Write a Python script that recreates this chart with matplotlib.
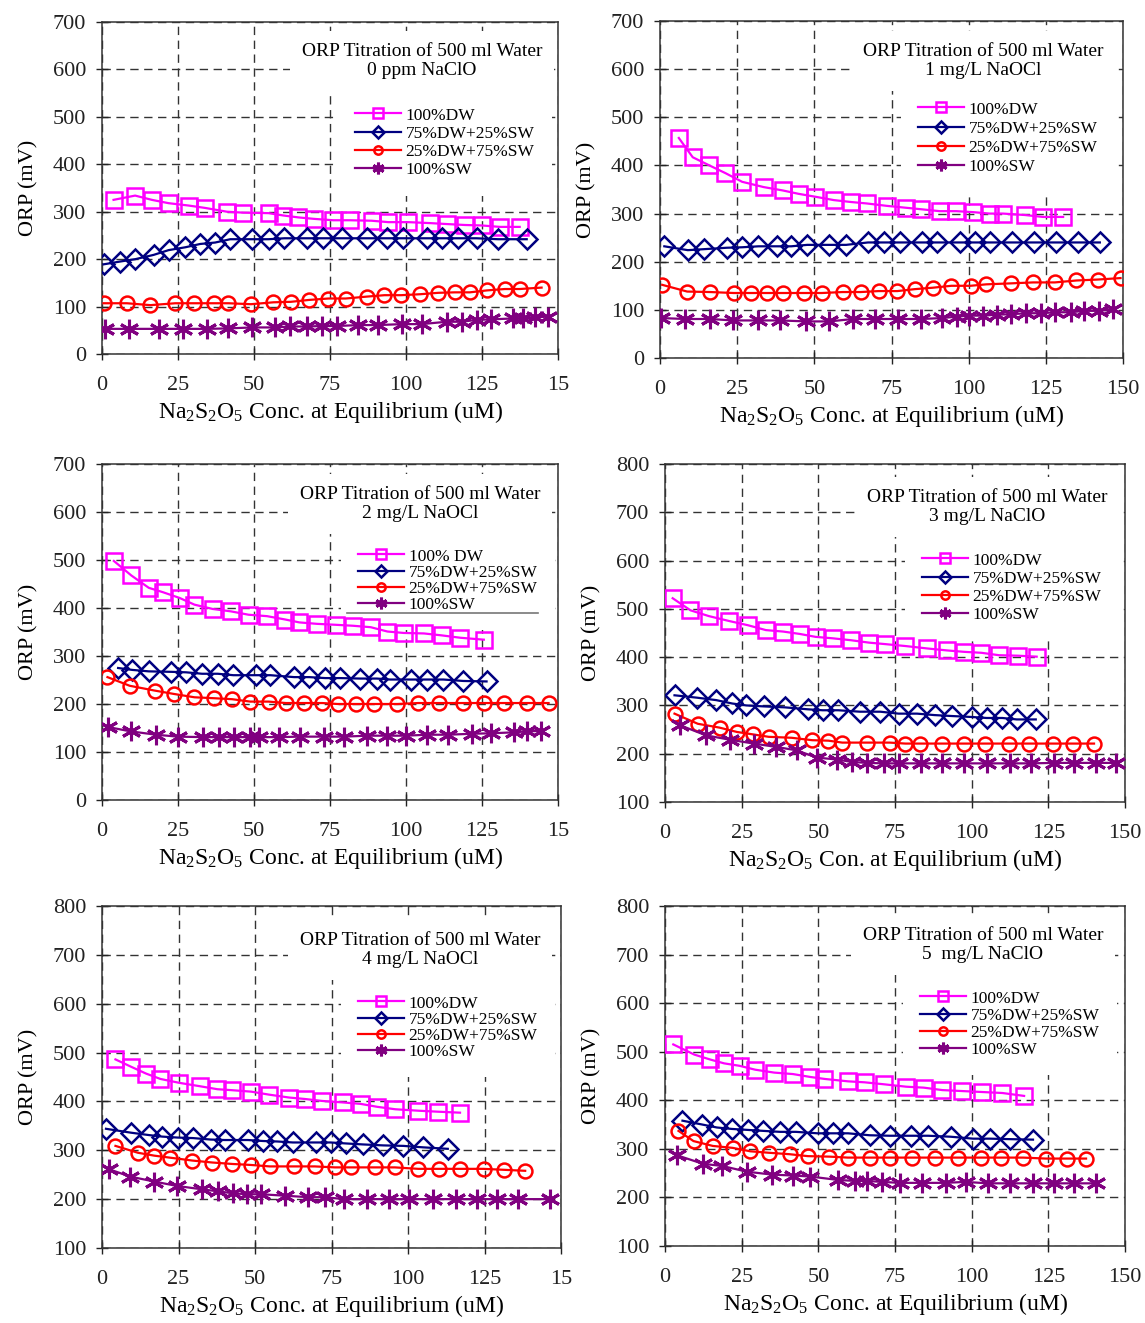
import matplotlib
matplotlib.use("Agg")
import matplotlib.pyplot as plt
from matplotlib.lines import Line2D

plt.rcParams["font.family"] = ["Liberation Serif", "DejaVu Serif"]
plt.rcParams["mathtext.fontset"] = "custom"
plt.rcParams["mathtext.rm"] = "Liberation Serif"
plt.rcParams["mathtext.it"] = "Liberation Serif:italic"

W, H = 1145, 1323

series_labels = ["100%DW", "75%DW+25%SW", "25%DW+75%SW", "100%SW"]
series_labels_p3 = ["100% DW", "75%DW+25%SW", "25%DW+75%SW", "100%SW"]
titles = ["0 ppm NaClO", "1 mg/L NaOCl", "2 mg/L NaOCl",
          "3 mg/L NaClO", "4 mg/L NaOCl", "5  mg/L NaClO"]
x_ticks = [0, 25, 50, 75, 100, 125, 150]
x_labels_left = ["0", "25", "50", "75", "100", "125", "15"]
x_labels_right = ["0", "25", "50", "75", "100", "125", "150"]

# ---- panel 1 : 0 ppm NaClO ----
p1_dw_x = [3.8, 10.9, 16.4, 21.9, 28.5, 33.9, 41.1, 46.5, 54.8, 59.7, 64.6, 69.6, 76.1, 81.6, 88.7, 94.2, 100.8, 107.9, 113.4, 119.4, 124.9, 130.9, 137.4]
p1_dw_y = [325, 334, 325, 318, 313, 308, 300, 298, 297, 292, 288, 285, 282, 282, 281, 278, 278, 276, 274, 272, 271, 268, 268]
p1_75_x = [0.5, 6.0, 11.0, 17.0, 21.9, 27.4, 32.3, 37.2, 42.2, 49.3, 54.8, 60.0, 67.3, 72.8, 78.9, 87.1, 93.6, 99.1, 106.8, 111.7, 117.2, 123.2, 130.3, 139.7]
p1_75_y = [189, 195, 200, 209, 219, 225, 232, 235, 242, 242, 242, 244, 244, 244, 244, 244, 244, 244, 244, 244, 244, 244, 242, 242]
p1_25_x = [0.5, 8.2, 15.9, 24.1, 30.4, 37.0, 41.6, 49.0, 56.4, 62.1, 68.1, 74.5, 80.2, 87.1, 92.9, 98.4, 104.6, 110.6, 116.1, 121.0, 126.5, 132.5, 137.4, 144.6]
p1_25_y = [107, 107, 103, 107, 107, 107, 107, 105, 109, 110, 114, 117, 117, 121, 124, 124, 126, 129, 130, 130, 134, 137, 137, 140]
p1_sw_x = [1.1, 8.8, 18.6, 26.8, 34.5, 41.6, 49.5, 56.9, 61.9, 67.3, 72.3, 77.2, 84.3, 90.9, 98.6, 105.1, 113.4, 118.3, 123.2, 128.1, 135.3, 138.6, 142.4, 146.8]
p1_sw_y = [53, 53, 53, 53, 53, 54, 56, 56, 58, 58, 59, 59, 61, 61, 63, 63, 68, 68, 72, 73, 75, 75, 77, 79]

# ---- panel 2 : 1 mg/L NaOCl ----
p2_dw_x = [6.1, 10.6, 16.0, 21.2, 26.6, 33.6, 39.8, 44.9, 50.3, 56.3, 61.9, 67.0, 73.5, 79.8, 84.6, 90.6, 96.0, 101.4, 106.8, 111.1, 118.2, 124.1, 130.6]
p2_dw_y = [457, 417, 400, 384, 366, 355, 348, 341, 335, 328, 324, 321, 316, 312, 309, 305, 305, 303, 300, 300, 297, 293, 293]
p2_75_x = [1.4, 9.0, 14.1, 21.6, 26.6, 31.9, 37.9, 42.5, 47.7, 54.9, 60.3, 67.4, 72.5, 77.6, 84.9, 89.7, 97.3, 101.9, 106.8, 114.0, 121.2, 128.2, 135.5, 142.5]
p2_75_y = [232, 224, 226, 229, 230, 232, 232, 232, 235, 235, 235, 240, 240, 240, 240, 240, 240, 240, 240, 240, 240, 240, 240, 240]
p2_25_x = [0.7, 8.8, 16.3, 23.9, 29.5, 34.6, 39.8, 46.8, 52.4, 59.2, 65.0, 70.8, 76.9, 82.5, 88.4, 94.4, 100.6, 105.7, 113.6, 120.9, 127.9, 134.9, 141.9, 149.2]
p2_25_y = [152, 138, 137, 135, 135, 135, 135, 135, 135, 137, 137, 139, 139, 143, 146, 150, 150, 153, 155, 157, 157, 161, 163, 166]
p2_sw_x = [0.3, 8.2, 16.3, 23.6, 31.7, 39.0, 47.4, 54.9, 62.5, 69.7, 77.1, 84.6, 91.5, 96.2, 100.0, 104.6, 109.3, 113.8, 118.7, 123.4, 128.1, 133.1, 137.4, 142.2, 146.8]
p2_sw_y = [83, 81, 81, 78, 78, 78, 76, 76, 81, 81, 81, 81, 83, 86, 88, 88, 90, 91, 93, 93, 95, 95, 98, 98, 101]

# ---- panel 3 : 2 mg/L NaOCl ----
p3_dw_x = [3.9, 9.6, 15.4, 20.0, 25.5, 30.4, 36.4, 42.4, 48.2, 54.3, 60.3, 64.9, 70.7, 76.9, 82.6, 88.4, 93.9, 99.3, 105.9, 111.7, 117.9, 125.6]
p3_dw_y = [498, 468, 442, 433, 421, 407, 398, 393, 386, 383, 376, 370, 367, 365, 363, 360, 351, 348, 347, 343, 338, 334]
p3_75_x = [5.3, 10.0, 15.4, 22.8, 27.7, 32.9, 38.1, 43.2, 50.7, 55.4, 63.2, 68.2, 73.4, 78.2, 84.9, 90.4, 94.8, 101.5, 107.0, 112.3, 118.8, 126.5]
p3_75_y = [275, 271, 268, 267, 266, 263, 263, 260, 260, 260, 256, 256, 254, 254, 253, 253, 251, 251, 251, 251, 248, 247]
p3_25_x = [1.8, 9.1, 17.3, 23.6, 30.4, 37.0, 42.8, 48.8, 54.8, 60.5, 66.5, 72.5, 77.5, 83.5, 89.5, 97.2, 104.0, 110.8, 118.8, 125.6, 132.2, 139.8, 146.9]
p3_25_y = [256, 238, 228, 221, 214, 212, 210, 205, 205, 202, 202, 202, 200, 200, 200, 200, 202, 202, 202, 202, 202, 202, 202]
p3_sw_x = [2.0, 9.4, 17.8, 24.9, 33.2, 38.6, 43.5, 48.8, 51.7, 58.3, 65.1, 73.1, 79.6, 87.3, 93.9, 99.9, 107.0, 113.9, 121.6, 128.1, 135.5, 139.8, 144.5]
p3_sw_y = [152, 143, 136, 132, 131, 131, 131, 131, 131, 131, 132, 132, 132, 134, 134, 134, 136, 136, 138, 139, 141, 143, 144]

# ---- panel 4 : 3 mg/L NaClO ----
p4_dw_x = [2.5, 8.3, 14.3, 20.8, 27.1, 32.9, 38.5, 44.0, 49.1, 54.7, 60.7, 66.6, 71.8, 78.4, 85.5, 91.8, 97.5, 103.2, 108.9, 115.0, 121.2]
p4_dw_y = [522, 497, 485, 475, 466, 456, 453, 448, 442, 439, 435, 430, 427, 423, 418, 414, 411, 409, 404, 403, 401]
p4_75_x = [3.1, 10.5, 16.7, 21.9, 26.5, 32.2, 39.1, 46.5, 51.4, 56.5, 63.6, 70.2, 76.2, 82.2, 87.9, 93.7, 100.2, 104.9, 110.0, 114.7, 120.9]
p4_75_y = [321, 316, 311, 304, 300, 298, 296, 292, 290, 290, 287, 287, 283, 283, 280, 278, 276, 274, 274, 271, 271]
p4_25_x = [3.1, 10.7, 17.8, 23.5, 28.7, 33.8, 41.3, 48.0, 53.3, 57.8, 66.0, 73.3, 78.4, 83.1, 90.4, 97.5, 104.4, 112.2, 118.8, 126.4, 133.0, 139.9]
p4_25_y = [283, 262, 254, 245, 240, 235, 233, 228, 227, 223, 223, 223, 221, 221, 221, 221, 221, 221, 221, 221, 221, 221]
p4_sw_x = [4.9, 13.4, 21.1, 29.0, 36.3, 42.9, 49.5, 56.0, 60.9, 65.8, 71.3, 76.2, 83.5, 90.4, 97.5, 104.9, 112.6, 119.3, 126.9, 133.5, 140.4, 147.2]
p4_sw_y = [259, 238, 229, 221, 214, 207, 192, 188, 183, 181, 180, 180, 180, 180, 180, 180, 180, 180, 181, 181, 181, 181]

# ---- panel 5 : 4 mg/L NaOCl ----
p5_dw_x = [4.4, 9.5, 14.4, 19.1, 25.3, 32.1, 37.7, 42.5, 48.8, 54.5, 61.1, 66.3, 71.9, 78.6, 84.5, 89.9, 95.8, 103.4, 109.7, 117.0]
p5_dw_y = [486, 471, 457, 446, 438, 431, 425, 423, 420, 414, 408, 405, 401, 398, 395, 389, 384, 381, 379, 377]
p5_75_x = [1.3, 9.5, 15.5, 19.7, 24.8, 29.7, 35.5, 40.1, 47.7, 52.6, 57.3, 62.4, 69.9, 74.7, 79.7, 85.2, 91.9, 98.5, 105.0, 113.0]
p5_75_y = [344, 336, 331, 328, 326, 325, 322, 321, 321, 319, 318, 316, 316, 316, 314, 312, 310, 309, 306, 303]
p5_25_x = [4.4, 11.7, 17.1, 22.1, 29.5, 36.0, 42.6, 48.6, 54.8, 62.8, 69.5, 76.1, 81.3, 89.2, 95.7, 103.4, 110.2, 117.0, 124.7, 131.5, 138.3]
p5_25_y = [309, 295, 289, 285, 279, 275, 272, 270, 267, 267, 267, 265, 265, 265, 265, 262, 262, 262, 262, 260, 258]
p5_sw_x = [2.4, 9.3, 17.1, 24.5, 32.8, 37.9, 42.8, 47.4, 52.1, 59.9, 67.4, 72.8, 79.1, 86.5, 93.8, 100.4, 108.3, 115.7, 122.5, 129.0, 136.1, 146.3]
p5_sw_y = [261, 246, 236, 227, 220, 216, 212, 210, 210, 207, 204, 204, 200, 200, 200, 200, 200, 200, 200, 200, 200, 200]

# ---- panel 6 : 5 mg/L NaClO ----
p6_dw_x = [2.7, 9.6, 14.7, 19.3, 24.3, 29.4, 35.6, 41.7, 47.4, 52.0, 59.7, 65.1, 71.3, 78.6, 84.4, 90.4, 96.9, 103.5, 110.0, 117.1]
p6_dw_y = [515, 494, 484, 476, 471, 463, 457, 454, 448, 444, 439, 437, 433, 428, 426, 421, 419, 417, 415, 409]
p6_75_x = [5.7, 12.2, 16.9, 21.8, 27.0, 32.1, 37.6, 42.7, 49.8, 54.7, 59.7, 66.7, 73.3, 80.3, 85.8, 93.1, 100.5, 105.9, 112.5, 120.0]
p6_75_y = [358, 350, 344, 341, 339, 337, 335, 335, 332, 332, 332, 328, 327, 327, 327, 325, 321, 321, 320, 319]
p6_25_x = [4.4, 9.3, 15.6, 22.1, 27.8, 33.8, 40.6, 46.6, 53.6, 59.6, 66.7, 73.5, 80.6, 88.2, 95.5, 102.9, 109.7, 116.8, 124.2, 131.0, 137.3]
p6_25_y = [337, 316, 306, 302, 295, 292, 289, 285, 284, 282, 282, 282, 282, 282, 282, 282, 282, 282, 280, 280, 280]
p6_sw_x = [3.8, 12.5, 18.5, 26.7, 34.9, 41.9, 47.4, 56.4, 61.9, 65.9, 70.6, 76.6, 83.9, 91.5, 98.0, 105.3, 112.5, 120.1, 126.9, 133.4, 140.5]
p6_sw_y = [287, 269, 265, 253, 247, 245, 243, 236, 234, 234, 232, 230, 230, 230, 232, 229, 229, 229, 229, 229, 229]

panel_data = [
    [(p1_dw_x, p1_dw_y), (p1_75_x, p1_75_y), (p1_25_x, p1_25_y), (p1_sw_x, p1_sw_y)],
    [(p2_dw_x, p2_dw_y), (p2_75_x, p2_75_y), (p2_25_x, p2_25_y), (p2_sw_x, p2_sw_y)],
    [(p3_dw_x, p3_dw_y), (p3_75_x, p3_75_y), (p3_25_x, p3_25_y), (p3_sw_x, p3_sw_y)],
    [(p4_dw_x, p4_dw_y), (p4_75_x, p4_75_y), (p4_25_x, p4_25_y), (p4_sw_x, p4_sw_y)],
    [(p5_dw_x, p5_dw_y), (p5_75_x, p5_75_y), (p5_25_x, p5_25_y), (p5_sw_x, p5_sw_y)],
    [(p6_dw_x, p6_dw_y), (p6_75_x, p6_75_y), (p6_25_x, p6_25_y), (p6_sw_x, p6_sw_y)],
]
y_limits = [(0, 700), (0, 700), (0, 700), (100, 800), (100, 800), (100, 800)]

# layout in pixels: axes box (left, top, right, bottom), title centre, legend top-left
boxes = [(102, 22, 558, 354), (660, 21, 1123, 358), (102, 464, 558, 800),
         (665, 464, 1125, 802), (102, 906, 561, 1248), (665, 906, 1125, 1246)]
title_pos = [(422, 61), (983, 61), (420, 504), (987, 507), (420, 950), (983, 945)]
legend_pos = [(338, 90), (901, 84), (341, 531), (905, 535), (341, 978), (903, 973)]
legend_spacing = [0.12, 0.18, 0.0, 0.12, 0.0, 0.06]

colors = ["#ff00ff", "#000080", "#ff0000", "#800080"]
markers = ["s", "D", "o", (6, 2, 0)]
msizes = [11, 10, 10, 14]
mews = [1.8, 1.8, 1.8, 2.2]

fig = plt.figure(figsize=(W / 100, H / 100), dpi=100)

for i in range(6):
    l, t, r, b = boxes[i]
    ax = fig.add_axes([l / W, 1 - b / H, (r - l) / W, (b - t) / H])
    labels = series_labels_p3 if i == 2 else series_labels
    for (xs, ys), c, m, ms, mw, lab in zip(panel_data[i], colors, markers, msizes, mews, labels):
        ax.plot(xs, ys, color=c, lw=1.6, marker=m, ms=ms, mfc="none",
                mec=c, mew=mw, label=lab, zorder=3)
    ax.set_xlim(0, 150)
    ax.set_ylim(*y_limits[i])
    ax.set_xticks(x_ticks)
    ax.set_xticklabels(x_labels_left if i % 2 == 0 else x_labels_right)
    ax.set_yticks(range(y_limits[i][0], y_limits[i][1] + 1, 100))
    ax.set_axisbelow(True)
    ax.grid(True, color="#333333", lw=1.0, ls=(0, (6, 4)))
    ax.tick_params(direction="inout", length=9, width=1, labelsize=16,
                   colors="#222222", pad=7)
    ax.tick_params(axis="x", pad=11)
    for sp in ax.spines.values():
        sp.set_color("#333333")
        sp.set_linewidth(1.1)
    ax.set_ylabel("ORP (mV)", fontsize=16, labelpad=10)
    xl = "Na$_2$S$_2$O$_5$ Conc. at Equilibrium (uM)"
    if i == 3:
        xl = "Na$_2$S$_2$O$_5$ Con. at Equilibrium (uM)"
    ax.set_xlabel(xl, fontsize=17, labelpad=3)

    tx, ty = title_pos[i]
    ax.text(tx / W, 1 - ty / H, "ORP Titration of 500 ml Water\n" + titles[i],
            transform=fig.transFigure, ha="center", va="center", fontsize=14,
            linespacing=1.15, zorder=2,
            bbox=dict(boxstyle="square,pad=0.6", fc="white", ec="none"))

    lx, ly = legend_pos[i]
    leg = ax.legend(loc="upper left", bbox_to_anchor=(lx / W, 1 - ly / H),
                    bbox_transform=fig.transFigure, fontsize=12.5, frameon=True,
                    fancybox=False, framealpha=1, facecolor="white",
                    edgecolor="none", borderpad=1.0, borderaxespad=0,
                    handlelength=2.6, handletextpad=0.3,
                    labelspacing=legend_spacing[i], markerscale=0.6)
    leg.set_zorder(2)

# thin grey rule under the legend of the 2 mg/L panel
fig.add_artist(Line2D([347 / W, 538 / W], [1 - 613 / H, 1 - 613 / H],
                      color="#777777", lw=1.2))

fig.savefig("out.png", dpi=100)
